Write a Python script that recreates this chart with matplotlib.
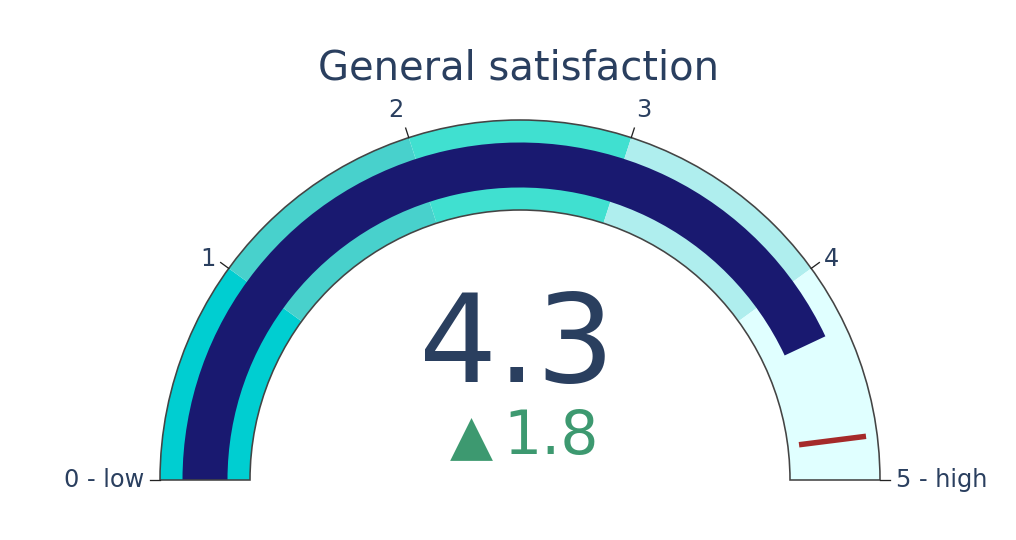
"""Gauge: general satisfaction score with delta vs reference and a threshold marker."""
import numpy as np
import matplotlib
matplotlib.use("Agg")
import matplotlib.pyplot as plt
from matplotlib.patches import Wedge

TITLE = "General satisfaction"
VALUE = 4.3
REFERENCE = 2.5
THRESHOLD = 4.8
AXIS_RANGE = (0, 5)
STEP_EDGES = [0, 1, 2, 3, 4, 5]
STEP_COLORS = ["#00CED1", "#48D1CC", "#40E0D0", "#AFEEEE", "#E0FFFF"]
TICK_VALS = [0, 1, 2, 3, 4, 5]
TICK_TEXT = ["0 - low", "1", "2", "3", "4", "5 - high"]

TEXT_COLOR = "#2a3f5f"
BAR_COLOR = "#191970"
THRESH_COLOR = "#A52A2A"
DELTA_COLOR = "#3D9970"

W, H = 1016, 540
PT = 72 / 100  # px -> pt at dpi 100

# gauge geometry in pixels (y up)
CX, CY = 520, 60
R_OUT, R_IN = 360, 270
BAR_OUT, BAR_W = 337.5, 45


def ang(v):
    lo, hi = AXIS_RANGE
    return 180.0 - (v - lo) / (hi - lo) * 180.0


def main():
    fig = plt.figure(figsize=(W / 100, H / 100), dpi=100)
    ax = fig.add_axes([0, 0, 1, 1])
    ax.set_xlim(0, W)
    ax.set_ylim(0, H)
    ax.axis("off")

    # steps
    for lo, hi, col in zip(STEP_EDGES[:-1], STEP_EDGES[1:], STEP_COLORS):
        ax.add_patch(Wedge((CX, CY), R_OUT, ang(hi), ang(lo), width=R_OUT - R_IN,
                           facecolor=col, edgecolor="none"))

    # value bar
    ax.add_patch(Wedge((CX, CY), BAR_OUT, ang(VALUE), ang(AXIS_RANGE[0]), width=BAR_W,
                       facecolor=BAR_COLOR, edgecolor="none"))

    # threshold
    mid = BAR_OUT - BAR_W / 2
    half = 0.75 * (R_OUT - R_IN) / 2
    t = np.deg2rad(ang(THRESHOLD))
    rr = np.array([mid - half, mid + half])
    ax.plot(CX + rr * np.cos(t), CY + rr * np.sin(t), color=THRESH_COLOR,
            lw=5.5 * PT, solid_capstyle="butt")

    # outline
    ax.add_patch(Wedge((CX, CY), R_OUT, 0, 180, width=R_OUT - R_IN,
                       fill=False, edgecolor="#444444", lw=1.6 * PT))

    # ticks + labels
    for v, lab in zip(TICK_VALS, TICK_TEXT):
        a = np.deg2rad(ang(v))
        c, s = np.cos(a), np.sin(a)
        ax.plot([CX + R_OUT * c, CX + (R_OUT + 10) * c],
                [CY + R_OUT * s, CY + (R_OUT + 10) * s], color="#222222", lw=1.3 * PT)
        ha = "right" if c < -0.1 else ("left" if c > 0.1 else "center")
        va = "bottom" if s > 0.7 else "center"
        rl = R_OUT + 16
        ax.text(CX + rl * c, CY + rl * s, lab, ha=ha, va=va,
                fontsize=24 * PT, color=TEXT_COLOR)

    # title, number, delta
    ax.text(CX - 1, H - 80, TITLE, ha="center", va="baseline",
            fontsize=40 * PT, color=TEXT_COLOR)
    ax.text(CX - 3, H - 382, f"{VALUE:.1f}", ha="center", va="baseline",
            fontsize=123 * PT, color=TEXT_COLOR)
    delta = VALUE - REFERENCE
    ax.text(CX - 27, H - 454, "\u25B2", ha="right", va="baseline",
            fontsize=56 * PT, color=DELTA_COLOR)
    ax.text(CX - 17, H - 454, f"{delta:.1f}", ha="left", va="baseline",
            fontsize=60 * PT, color=DELTA_COLOR)

    fig.savefig("out.png", dpi=100)
    plt.close(fig)


if __name__ == "__main__":
    main()
